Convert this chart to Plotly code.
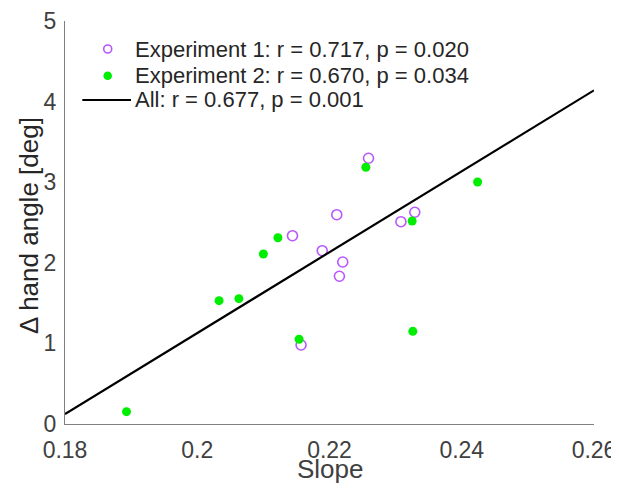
import plotly.graph_objects as go

# Experiment 1 (open purple circles)
exp1_slope = [0.2259, 0.2211, 0.2329, 0.2308, 0.2144, 0.2189, 0.2220, 0.2215, 0.2157]
exp1_angle = [3.297, 2.597, 2.627, 2.510, 2.336, 2.150, 2.010, 1.833, 0.980]

# Experiment 2 (filled green dots)
exp2_slope = [0.2255, 0.2424, 0.2325, 0.2122, 0.2100, 0.2033, 0.2063, 0.2154, 0.2326, 0.1893]
exp2_angle = [3.185, 3.002, 2.519, 2.311, 2.109, 1.530, 1.555, 1.051, 1.150, 0.153]

# Regression line (all data)
fit_slope = [0.18, 0.26]
fit_angle = [0.124, 4.14]

legend_labels = [
    "Experiment 1: r = 0.717, p = 0.020",
    "Experiment 2: r = 0.670, p = 0.034",
    "All: r = 0.677, p = 0.001",
]
x_title = "Slope"
y_title = "Δ hand angle [deg]"

x_ticks = [0.18, 0.20, 0.22, 0.24, 0.26]
x_tick_labels = ["0.18", "0.2", "0.22", "0.24", "0.26"]
y_ticks = [0, 1, 2, 3, 4, 5]
y_tick_labels = ["0", "1", "2", "3", "4", "5"]

FONT = "Liberation Sans, Arial, sans-serif"
PURPLE = "#B857FF"
GREEN = "#00EE00"

# page body has an 8px margin; the figure is sized/offset to compensate
OFF = 8
W, H = 619 - OFF, 492 - OFF
L, R, T, B = 65 - OFF, 25, 21 - OFF, 68
PW, PH = W - L - R, H - T - B


def px(xp):
    return (xp - OFF - L) / PW


def py(yp):
    return (H - B - (yp - OFF)) / PH


fig = go.Figure()
fig.add_trace(go.Scatter(
    x=exp1_slope, y=exp1_angle, mode="markers", name=legend_labels[0],
    marker=dict(symbol="circle-open", size=10, color=PURPLE, line=dict(width=1.6, color=PURPLE)),
))
fig.add_trace(go.Scatter(
    x=exp2_slope, y=exp2_angle, mode="markers", name=legend_labels[1],
    marker=dict(symbol="circle", size=9, color=GREEN),
))
fig.add_trace(go.Scatter(
    x=fit_slope, y=fit_angle, mode="lines", name=legend_labels[2],
    line=dict(color="black", width=2.2),
))

# Custom legend (MATLAB-style compact spacing)
row_y = [49, 75.7, 100]
sym_x = 107.7
shapes = [
    dict(type="circle", xref="paper", yref="paper",
         x0=px(sym_x - 4), x1=px(sym_x + 4), y0=py(row_y[0] + 4), y1=py(row_y[0] - 4),
         line=dict(color=PURPLE, width=1.6), fillcolor="rgba(0,0,0,0)"),
    dict(type="circle", xref="paper", yref="paper",
         x0=px(sym_x - 4.3), x1=px(sym_x + 4.3), y0=py(row_y[1] + 4.3), y1=py(row_y[1] - 4.3),
         line=dict(color=GREEN, width=0), fillcolor=GREEN),
    dict(type="line", xref="paper", yref="paper",
         x0=px(82.3), x1=px(131), y0=py(row_y[2]), y1=py(row_y[2]),
         line=dict(color="black", width=2.2)),
]
annotations = [
    dict(text=lab, xref="paper", yref="paper", x=px(133), y=py(ry),
         xanchor="left", yanchor="middle", showarrow=False,
         font=dict(family=FONT, size=22, color="#262626"))
    for lab, ry in zip(legend_labels, row_y)
]
annotations.append(dict(
    text=x_title, xref="paper", yref="paper", x=px(330), y=py(469),
    xanchor="center", yanchor="middle", showarrow=False,
    font=dict(family=FONT, size=26, color="#404040")))
annotations.append(dict(
    text=y_title, xref="paper", yref="paper", x=px(29), y=py(226),
    xanchor="center", yanchor="middle", showarrow=False, textangle=-90,
    font=dict(family=FONT, size=26, color="#262626")))

fig.update_layout(
    width=W, height=H,
    margin=dict(l=L, r=R, t=T, b=B),
    paper_bgcolor="white", plot_bgcolor="white",
    font=dict(family=FONT, color="#404040"),
    showlegend=False,
    shapes=shapes,
    annotations=annotations,
    xaxis=dict(
        range=[0.18, 0.26], tickvals=x_ticks, ticktext=x_tick_labels,
        showgrid=False, zeroline=False, showline=True, linecolor="#808080", linewidth=1.3,
        ticks="outside", ticklen=5, tickcolor="rgba(0,0,0,0)",
        tickfont=dict(size=23, color="#404040"), automargin=False,
    ),
    yaxis=dict(
        range=[0, 5], tickvals=y_ticks, ticktext=y_tick_labels,
        showgrid=False, zeroline=False, showline=True, linecolor="#808080", linewidth=1.3,
        ticks="", tickfont=dict(size=23, color="#404040"), automargin=False,
        ticklabelstandoff=3,
    ),
)

fig.write_html("out.html")
